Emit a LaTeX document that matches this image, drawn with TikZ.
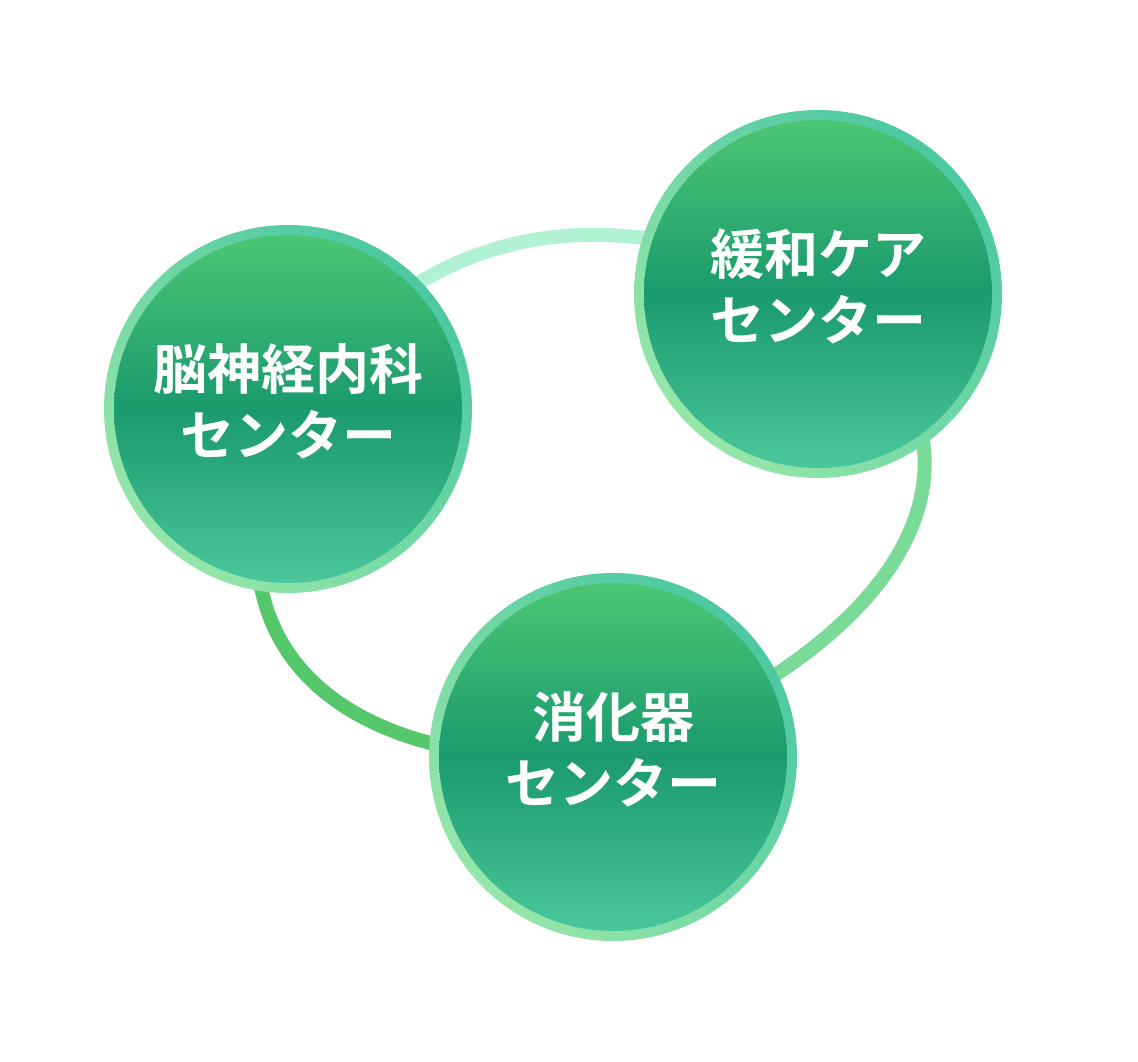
\documentclass[tikz,border=0pt]{standalone}
\usepackage{fontspec}
\newfontfamily\jp{Noto Sans CJK JP Bold}
\usetikzlibrary{shadings}
\definecolor{ringA}{HTML}{95E6A8}
\definecolor{ringB}{HTML}{4CC8A2}
\definecolor{inTop}{HTML}{4CC674}
\definecolor{inMid}{HTML}{1A9A6E}
\definecolor{inBot}{HTML}{4BC79B}
\definecolor{mint}{HTML}{B2F2D4}
\definecolor{lineR}{HTML}{7ADB98}
\definecolor{lineL}{HTML}{55C86C}
\tikzset{
  ring/.style={circle,minimum size=368pt,inner sep=0pt,shading=axis,left color=ringA,right color=ringB,shading angle=135},
  core/.style={circle,minimum size=348pt,inner sep=0pt,shading=axis,top color=inTop,bottom color=inBot,middle color=inMid},
  lbl/.style={text=white,font=\jp\fontsize{54}{66}\selectfont,align=center},
  conn/.style={line width=14pt}
}
\begin{document}
\begin{tikzpicture}[x=1pt,y=-1pt]
\useasboundingbox (0,0) rectangle (1138,1061);
\fill[white] (0,0) rectangle (1138,1061);
\coordinate (c1) at (288,409);
\coordinate (c2) at (818,294);
\coordinate (c3) at (613,757);
% connectors
\draw[conn,mint] (c1) .. controls (420,220) and (610,190) .. (c2);
\draw[conn,lineR] (c2) .. controls (1000,420) and (960,620) .. (c3);
\draw[conn,lineL] (c1) .. controls (190,640) and (330,775) .. (c3);
% circles
\foreach \c/\n in {c1/a,c2/b,c3/c}{
  \node[ring] (r\n) at (\c) {};
  \node[core] (k\n) at (\c) {};
}
\node[lbl] (t1) at ([yshift=8]c1) {脳神経内科\\センター};
\node[lbl] (t2) at ([yshift=8]c2) {緩和ケア\\センター};
\node[lbl] (t3) at ([yshift=8]c3) {消化器\\センター};
\end{tikzpicture}
\end{document}
